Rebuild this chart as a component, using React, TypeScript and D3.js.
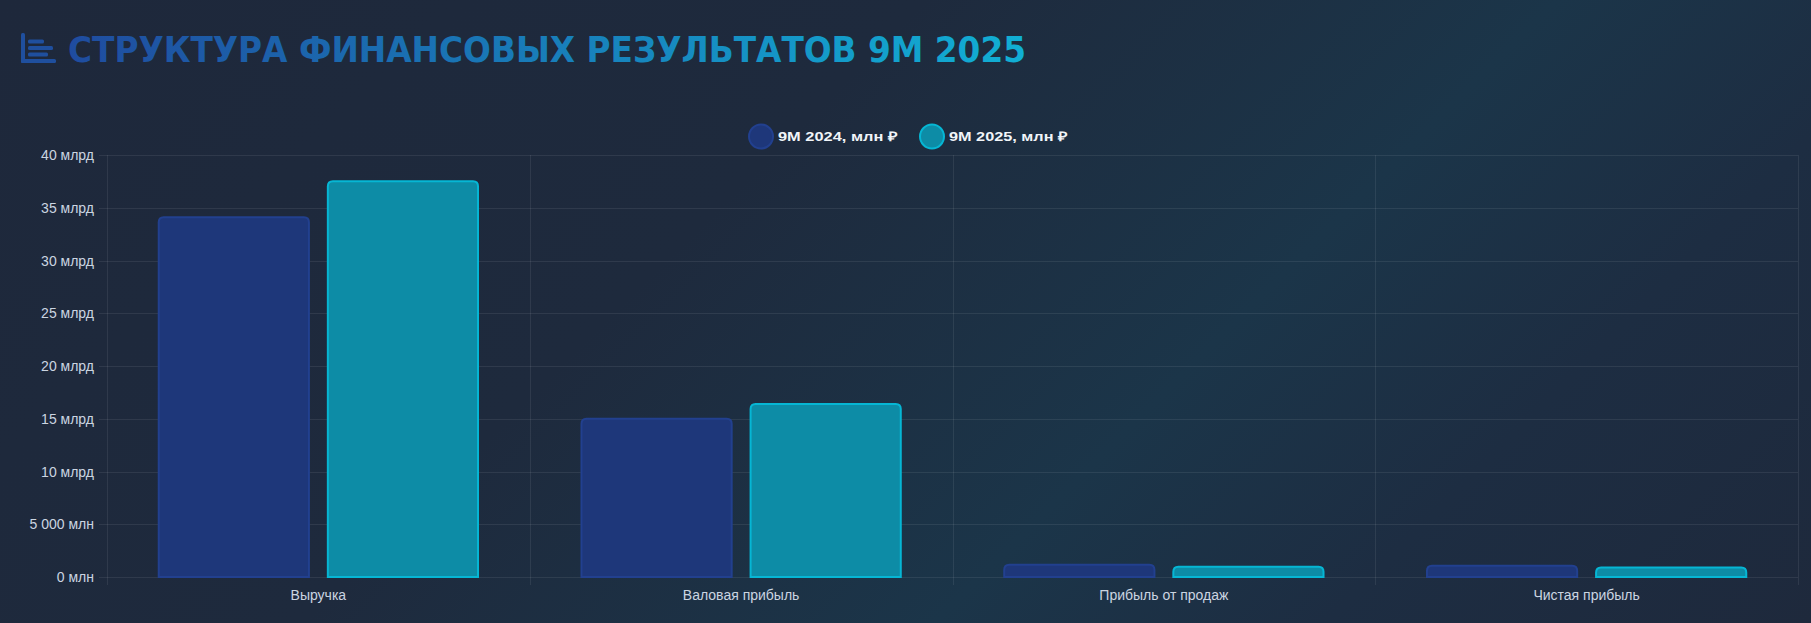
import * as d3 from "d3";

const SvgWidth = 1811;
const SvgHeight = 623;

// values in млн ₽
const categories = ["Выручка", "Валовая прибыль", "Прибыль от продаж", "Чистая прибыль"];
const seriesNames = ["9M 2024, млн ₽", "9M 2025, млн ₽"];
const values2024 = [34200, 15100, 1250, 1170];
const values2025 = [37600, 16500, 1060, 1000];
const yTicks = [0, 5000, 10000, 15000, 20000, 25000, 30000, 35000, 40000];
const yTickLabels = ["0 млн", "5 000 млн", "10 млрд", "15 млрд", "20 млрд", "25 млрд", "30 млрд", "35 млрд", "40 млрд"];

const titleText = "СТРУКТУРА ФИНАНСОВЫХ РЕЗУЛЬТАТОВ 9M 2025";

const fill2024 = "#1e377a";
const stroke2024 = "#22408f";
const fill2025 = "#0d8ca6";
const stroke2025 = "#06b6d4";
const gridColor = "rgba(255,255,255,0.08)";
const tickColor = "#cbd5e1";

const marginLeft = 107;
const marginRight = 13;
const marginTop = 155;
const marginBottom = 46;
const plotRight = SvgWidth - marginRight;
const plotBottom = SvgHeight - marginBottom;

// rect with rounded top corners only
function barPath(x, y, w, h, r) {
    const rr = Math.min(r, w / 2, h);
    return `M${x},${y + h} L${x},${y + rr} Q${x},${y} ${x + rr},${y} L${x + w - rr},${y} Q${x + w},${y} ${x + w},${y + rr} L${x + w},${y + h} Z`;
}

function App() {
    const xScale = d3.scaleBand()
        .domain(categories)
        .range([marginLeft, plotRight])
        .paddingInner(0)
        .paddingOuter(0);

    const bw = xScale.bandwidth();

    // chart.js style: categoryPercentage 0.8, barPercentage 0.9
    const innerScale = d3.scaleBand()
        .domain(seriesNames)
        .range([bw * 0.1, bw * 0.9])
        .paddingInner(0.1)
        .paddingOuter(0.05);

    const yScale = d3.scaleLinear()
        .domain([0, 40000])
        .range([plotBottom, marginTop]);

    const series = [
        {name: seriesNames[0], values: values2024, fill: fill2024, stroke: stroke2024},
        {name: seriesNames[1], values: values2025, fill: fill2025, stroke: stroke2025},
    ];

    const gridX = categories.map((c) => xScale(c)).concat([plotRight]);

    return (
        <div>
            <style>{`body{margin:0;overflow:hidden}`}</style>
            <svg width={SvgWidth} height={SvgHeight} style={{position: "absolute", left: 0, top: 0}}>
                <defs>
                    <linearGradient id="bg" gradientUnits="userSpaceOnUse" x1={297} y1={-297} x2={1514} y2={920}>
                        <stop offset="0" stopColor="#1e283b" />
                        <stop offset="0.38" stopColor="#1e2a3d" />
                        <stop offset="0.64" stopColor="#1b3549" />
                        <stop offset="0.8" stopColor="#1d2d42" />
                        <stop offset="1" stopColor="#1e293c" />
                    </linearGradient>
                    <linearGradient id="titleGrad" gradientUnits="userSpaceOnUse" x1={68} y1={0} x2={1026} y2={0}>
                        <stop offset="0" stopColor="#1f4c9f" />
                        <stop offset="1" stopColor="#11afd4" />
                    </linearGradient>
                </defs>
                <rect x={0} y={0} width={SvgWidth} height={SvgHeight} fill="url(#bg)" />

                {/* title */}
                <g fill="#1f4f9e">
                    <rect x={21} y={33} width={4} height={30} rx={1.5} />
                    <rect x={21} y={59} width={35} height={4} rx={1.5} />
                    <rect x={28} y={39.5} width={16} height={4} rx={1.5} />
                    <rect x={28} y={46} width={25} height={4} rx={1.5} />
                    <rect x={28} y={52.5} width={20} height={4} rx={1.5} />
                </g>
                <text
                    x={68}
                    y={62}
                    fontFamily="'Liberation Sans Narrow', 'DejaVu Sans Condensed', 'Liberation Sans', Arial, sans-serif"
                    fontWeight="bold"
                    fontSize={36}
                    fill="url(#titleGrad)"
                    textLength={958}
                    lengthAdjust="spacingAndGlyphs"
                >
                    {titleText}
                </text>

                {/* legend */}
                <g>
                    <circle cx={761} cy={136.5} r={12} fill={fill2024} stroke={stroke2024} strokeWidth={2} />
                    <text x={778} y={141} fontFamily="'Liberation Sans', Arial, sans-serif" fontWeight="bold" fontSize={13}
                          fill="#f1f5f9" textLength={120} lengthAdjust="spacingAndGlyphs">{seriesNames[0]}</text>
                    <circle cx={932} cy={136.5} r={12} fill={fill2025} stroke={stroke2025} strokeWidth={2} />
                    <text x={949} y={141} fontFamily="'Liberation Sans', Arial, sans-serif" fontWeight="bold" fontSize={13}
                          fill="#f1f5f9" textLength={119} lengthAdjust="spacingAndGlyphs">{seriesNames[1]}</text>
                </g>

                {/* grid */}
                <g stroke={gridColor} strokeWidth={1}>
                    {yTicks.map((t) => (
                        <line key={"gy" + t} x1={marginLeft - 8} x2={plotRight} y1={Math.round(yScale(t)) + 0.5} y2={Math.round(yScale(t)) + 0.5} />
                    ))}
                    {gridX.map((x, i) => (
                        <line key={"gx" + i} x1={Math.round(x) + 0.5} x2={Math.round(x) + 0.5} y1={marginTop} y2={plotBottom + 8} />
                    ))}
                </g>

                {/* bars */}
                {series.map((s) => (
                    <g key={s.name}>
                        {categories.map((c, i) => {
                            const x = xScale(c) + innerScale(s.name);
                            const w = innerScale.bandwidth();
                            const y = yScale(s.values[i]);
                            const h = plotBottom - y;
                            return (
                                <path
                                    key={c}
                                    d={barPath(x + 1, y + 1, w - 2, h - 1, 5)}
                                    fill={s.fill}
                                    stroke={s.stroke}
                                    strokeWidth={2}
                                />
                            );
                        })}
                    </g>
                ))}

                {/* y axis labels */}
                <g fontFamily="'Liberation Sans', Arial, sans-serif" fontSize={14} fill={tickColor} textAnchor="end">
                    {yTicks.map((t, i) => (
                        <text key={"yl" + t} x={marginLeft - 13} y={yScale(t) + 5}>{yTickLabels[i]}</text>
                    ))}
                </g>

                {/* x axis labels */}
                <g fontFamily="'Liberation Sans', Arial, sans-serif" fontSize={14} fill={tickColor} textAnchor="middle">
                    {categories.map((c) => (
                        <text key={"xl" + c} x={xScale(c) + bw / 2} y={600}>{c}</text>
                    ))}
                </g>
            </svg>
        </div>
    );
}

export default App;
